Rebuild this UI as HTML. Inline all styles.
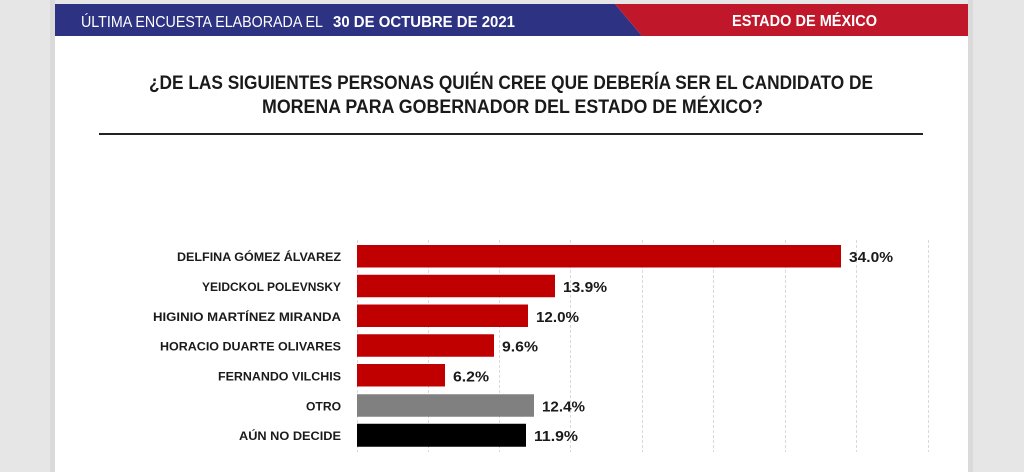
<!DOCTYPE html>
<html><head><meta charset="utf-8"><style>
html,body{margin:0;padding:0;background:#e6e6e6;}
svg{display:block;}
text{font-family:"Liberation Sans",Arial,sans-serif;}
</style></head><body>
<svg width="1024" height="472" viewBox="0 0 1024 472" xmlns="http://www.w3.org/2000/svg">
<rect x="0" y="0" width="1024" height="472" fill="#e6e6e6"/>
<rect x="50" y="0" width="5" height="472" fill="#dadada"/>
<rect x="968" y="0" width="5" height="472" fill="#dadada"/>
<rect x="55" y="4" width="913" height="468" fill="#ffffff"/>
<!-- header -->
<polygon points="55,4 615,4 642,36 55,36" fill="#2e3283"/>
<polygon points="615,4 968,4 968,36 642,36" fill="#c0172a"/>
<text x="81" y="27" font-size="16" fill="#ffffff" textLength="242" lengthAdjust="spacingAndGlyphs">ÚLTIMA ENCUESTA ELABORADA EL</text>
<text x="333" y="27" font-size="16" font-weight="bold" fill="#ffffff" textLength="182" lengthAdjust="spacingAndGlyphs">30 DE OCTUBRE DE 2021</text>
<text x="732" y="26" font-size="16" font-weight="bold" fill="#ffffff" textLength="145" lengthAdjust="spacingAndGlyphs">ESTADO DE MÉXICO</text>
<!-- title -->
<text x="149" y="89" font-size="19" font-weight="bold" fill="#1a1a1a" textLength="724" lengthAdjust="spacingAndGlyphs">¿DE LAS SIGUIENTES PERSONAS QUIÉN CREE QUE DEBERÍA SER EL CANDIDATO DE</text>
<text x="262" y="113" font-size="19" font-weight="bold" fill="#1a1a1a" textLength="501" lengthAdjust="spacingAndGlyphs">MORENA PARA GOBERNADOR DEL ESTADO DE MÉXICO?</text>
<rect x="99" y="133" width="824" height="2" fill="#222222"/>
<!-- grid -->
<g stroke="#d9d9d9" stroke-width="1" stroke-dasharray="3,2">
<line x1="357.5" y1="240" x2="357.5" y2="452"/>
<line x1="428.5" y1="240" x2="428.5" y2="452"/>
<line x1="499.5" y1="240" x2="499.5" y2="452"/>
<line x1="570.5" y1="240" x2="570.5" y2="452"/>
<line x1="642.5" y1="240" x2="642.5" y2="452"/>
<line x1="713.5" y1="240" x2="713.5" y2="452"/>
<line x1="785.5" y1="240" x2="785.5" y2="452"/>
<line x1="856.5" y1="240" x2="856.5" y2="452"/>
<line x1="928.5" y1="240" x2="928.5" y2="452"/>
</g>
<!-- bars -->
<rect x="357" y="245" width="484" height="22.5" fill="#c00000"/>
<rect x="357" y="274.75" width="198" height="22.5" fill="#c00000"/>
<rect x="357" y="304.5" width="171" height="22.5" fill="#c00000"/>
<rect x="357" y="334.25" width="137" height="22.5" fill="#c00000"/>
<rect x="357" y="364" width="88" height="22.5" fill="#c00000"/>
<rect x="357" y="394.25" width="177" height="22.5" fill="#808080"/>
<rect x="357" y="423.75" width="169" height="23" fill="#000000"/>
<!-- labels -->
<g font-size="12" font-weight="bold" fill="#1a1a1a" text-anchor="end">
<text x="341" y="261" textLength="164" lengthAdjust="spacingAndGlyphs">DELFINA GÓMEZ ÁLVAREZ</text>
<text x="341" y="291" textLength="139" lengthAdjust="spacingAndGlyphs">YEIDCKOL POLEVNSKY</text>
<text x="341" y="321" textLength="188" lengthAdjust="spacingAndGlyphs">HIGINIO MARTÍNEZ MIRANDA</text>
<text x="341" y="350.5" textLength="181" lengthAdjust="spacingAndGlyphs">HORACIO DUARTE OLIVARES</text>
<text x="341" y="380.5" textLength="123" lengthAdjust="spacingAndGlyphs">FERNANDO VILCHIS</text>
<text x="341" y="410.5" textLength="35" lengthAdjust="spacingAndGlyphs">OTRO</text>
<text x="341" y="440" textLength="102" lengthAdjust="spacingAndGlyphs">AÚN NO DECIDE</text>
</g>
<!-- values -->
<g font-size="15" font-weight="bold" fill="#1a1a1a">
<text x="849" y="262" textLength="44" lengthAdjust="spacingAndGlyphs">34.0%</text>
<text x="563" y="292" textLength="44" lengthAdjust="spacingAndGlyphs">13.9%</text>
<text x="536" y="322" textLength="43" lengthAdjust="spacingAndGlyphs">12.0%</text>
<text x="502" y="351.5" textLength="36" lengthAdjust="spacingAndGlyphs">9.6%</text>
<text x="453" y="381.5" textLength="36" lengthAdjust="spacingAndGlyphs">6.2%</text>
<text x="542" y="411.5" textLength="43" lengthAdjust="spacingAndGlyphs">12.4%</text>
<text x="534" y="441" textLength="44" lengthAdjust="spacingAndGlyphs">11.9%</text>
</g>
</svg>
</body></html>
